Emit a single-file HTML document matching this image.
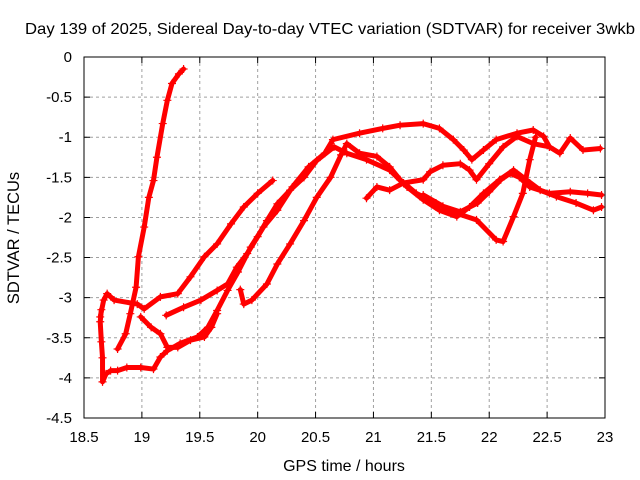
<!DOCTYPE html>
<html><head><meta charset="utf-8"><style>
body{margin:0;background:#fff;}
svg{display:block;font-family:"Liberation Sans",sans-serif;}
</style></head><body>
<svg id="chart" width="640" height="480" viewBox="0 0 640 480">
<rect width="640" height="480" fill="#fff"/>
<text x="330" y="34" font-size="16" text-anchor="middle" textLength="610" lengthAdjust="spacingAndGlyphs">Day 139 of 2025, Sidereal Day-to-day VTEC variation (SDTVAR) for receiver 3wkb</text>
<text x="344" y="471" font-size="16" text-anchor="middle">GPS time / hours</text>
<text transform="translate(19,238) rotate(-90)" font-size="16.5" text-anchor="middle">SDTVAR / TECUs</text>
<g id="grid"></g><g id="ticks"></g><g id="marks"></g>
<rect x="84" y="57" width="521" height="361" fill="none" stroke="#000" stroke-width="1"/>
</svg>
<script>
const xTicks=[18.5,19,19.5,20,20.5,21,21.5,22,22.5,23];
const xTickLabels=["18.5","19","19.5","20","20.5","21","21.5","22","22.5","23"];
const yTicks=[0,-0.5,-1,-1.5,-2,-2.5,-3,-3.5,-4,-4.5];
const yTickLabels=["0","-0.5","-1","-1.5","-2","-2.5","-3","-3.5","-4","-4.5"];
const sSteep=[[18.79,-3.64],[18.86,-3.45],[18.90,-3.20],[18.95,-2.87],[18.97,-2.49],[19.02,-2.12],[19.06,-1.75],[19.10,-1.54],[19.13,-1.25],[19.18,-0.83],[19.22,-0.54],[19.26,-0.33],[19.32,-0.21],[19.36,-0.15]];
const sUpper=[[18.64,-3.24],[18.67,-3.03],[18.70,-2.95],[18.76,-3.03],[18.96,-3.08],[19.02,-3.14],[19.16,-2.99],[19.31,-2.95],[19.42,-2.74],[19.54,-2.49],[19.65,-2.33],[19.77,-2.08],[19.88,-1.87],[20.0,-1.70],[20.13,-1.54]];
const sMiddle=[[19.21,-3.22],[19.36,-3.12],[19.51,-3.03],[19.65,-2.91],[19.74,-2.83],[19.82,-2.62],[19.91,-2.45],[20.0,-2.24],[20.08,-2.04],[20.17,-1.83],[20.28,-1.66],[20.40,-1.50],[20.51,-1.29],[20.66,-1.12],[20.77,-1.2],[20.94,-1.28],[21.14,-1.41],[21.29,-1.62],[21.43,-1.78],[21.57,-1.91],[21.72,-1.99],[21.83,-1.87],[21.95,-1.7],[22.09,-1.53],[22.21,-1.41],[22.32,-1.53],[22.44,-1.66],[22.58,-1.74],[22.75,-1.82],[22.9,-1.91],[22.97,-1.87]];
const sDescend=[[18.99,-3.24],[19.08,-3.37],[19.16,-3.45],[19.22,-3.62],[19.31,-3.62],[19.42,-3.53],[19.54,-3.49],[19.6,-3.37],[19.65,-3.2]];
const sLower=[[18.65,-3.15],[18.64,-3.3],[18.65,-3.55],[18.66,-3.75],[18.66,-4.05],[18.69,-3.95],[18.73,-3.91],[18.79,-3.91],[18.87,-3.87],[18.99,-3.87],[19.1,-3.89],[19.16,-3.74],[19.22,-3.66],[19.33,-3.57],[19.48,-3.49],[19.57,-3.37],[19.65,-3.16],[19.74,-2.91],[19.83,-2.68],[19.94,-2.37],[20.05,-2.12],[20.17,-1.91],[20.3,-1.62],[20.44,-1.37],[20.58,-1.2],[20.65,-1.03],[20.88,-0.95],[21.08,-0.89],[21.23,-0.85],[21.43,-0.83],[21.57,-0.89],[21.69,-1.03],[21.78,-1.16],[21.85,-1.28],[21.95,-1.16],[22.06,-1.03],[22.24,-0.95],[22.38,-0.91],[22.47,-0.99],[22.52,-1.12],[22.61,-1.2],[22.7,-1.01],[22.81,-1.16],[22.96,-1.14]];
const sLate=[[19.85,-2.9],[19.88,-3.08],[19.95,-3.03],[20.08,-2.83],[20.17,-2.58],[20.28,-2.33],[20.4,-2.04],[20.51,-1.75],[20.63,-1.5],[20.72,-1.22],[20.77,-1.08],[20.88,-1.2],[21.03,-1.24],[21.14,-1.37],[21.23,-1.53],[21.37,-1.7],[21.54,-1.82],[21.72,-1.95],[21.89,-2.03],[22.06,-2.28],[22.12,-2.3],[22.21,-1.99],[22.29,-1.7],[22.35,-1.28],[22.4,-1.0]];
const sStart21=[[20.94,-1.76],[21.03,-1.62],[21.14,-1.66],[21.26,-1.57],[21.43,-1.53],[21.49,-1.43],[21.6,-1.35],[21.75,-1.33],[21.83,-1.41],[21.89,-1.53],[22.0,-1.33],[22.12,-1.12],[22.24,-0.99],[22.38,-1.08],[22.52,-1.12]];
const sDip=[[21.43,-1.72],[21.6,-1.86],[21.75,-1.93],[21.9,-1.82],[22.0,-1.68],[22.1,-1.53],[22.18,-1.45],[22.26,-1.5],[22.35,-1.62],[22.52,-1.7],[22.7,-1.68],[22.85,-1.7],[22.97,-1.72]];
const seriesList=[sSteep,sUpper,sMiddle,sDescend,sLower,sLate,sStart21,sDip];
const seriesNames=["series-steep","series-upper","series-middle","series-descend","series-lower","series-late","series-start21","series-dip"];
const X0=84,X1=605,Y0=57,Y1=418;
function sx(v){return X0+(v-18.5)/(23-18.5)*(X1-X0);}
function sy(v){return Y0+(0-v)/(4.5)*(Y1-Y0);}
const NS="http://www.w3.org/2000/svg";
const grid=document.getElementById('grid'),ticks=document.getElementById('ticks'),marks=document.getElementById('marks');
function mk(tag,attrs,parent){const e=document.createElementNS(NS,tag);for(const k in attrs)e.setAttribute(k,attrs[k]);parent.appendChild(e);return e;}
xTicks.forEach((t,i)=>{const x=sx(t);
 if(i>0&&i<xTicks.length-1){const g=mk('line',{x1:x,y1:Y0,x2:x,y2:Y1,stroke:'#a0a0a0','stroke-dasharray':'3,3'},grid);
 
 }
 const tk=mk('path',{d:`M${x},${Y1}v-6M${x},${Y0}v6`,stroke:'#000'},ticks);
 
 
 const l=mk('text',{x:x,y:Y1+24,'font-size':15,'text-anchor':'middle'},ticks);l.textContent=xTickLabels[i];
 
 });
yTicks.forEach((t,i)=>{const y=sy(t);
 if(i>0&&i<yTicks.length-1){const g=mk('line',{x1:X0,y1:y,x2:X1,y2:y,stroke:'#a0a0a0','stroke-dasharray':'3,3'},grid);
 
 }
 const tk=mk('path',{d:`M${X0},${y}h6M${X1},${y}h-6`,stroke:'#000'},ticks);
 
 
 const l=mk('text',{x:X0-12,y:y+5,'font-size':15,'text-anchor':'end'},ticks);l.textContent=yTickLabels[i];
 
 });
seriesList.forEach((s,si)=>{
 const g=mk('g',{},marks);
 
 
 const pl=mk('polyline',{points:s.map(p=>sx(p[0])+','+sy(p[1])).join(' '),fill:'none',stroke:'#f00','stroke-width':5,'stroke-linejoin':'round','stroke-linecap':'round'},g);
 
 
 s.forEach(p=>{const x=sx(p[0]),y=sy(p[1]);
  const m=mk('path',{d:`M${x-4},${y}h8M${x},${y-4}v8`,stroke:'#f00','stroke-width':1.2},g);
  
  });
});
</script>
</body></html>
